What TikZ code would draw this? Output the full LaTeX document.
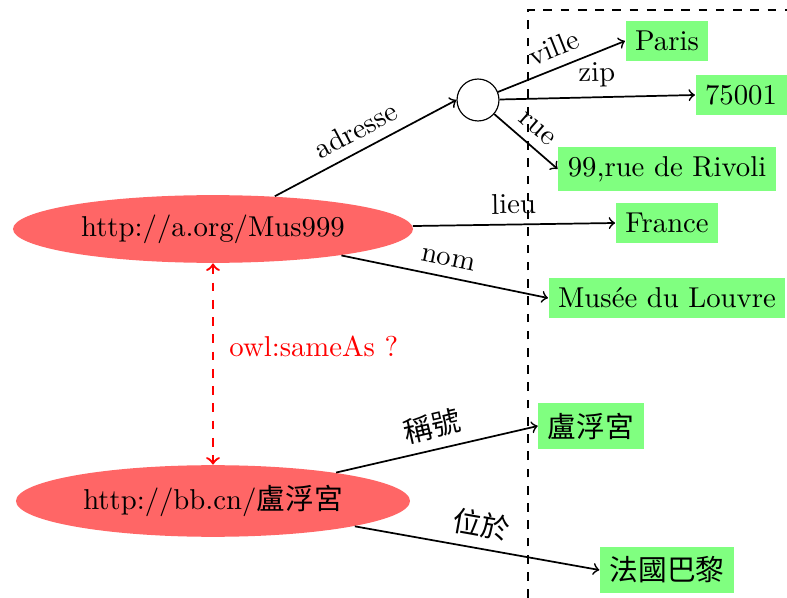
\documentclass[tikz,border=0pt]{standalone}
\usepackage{fontspec}
\newfontfamily\cjk{Noto Sans CJK TC}
\usetikzlibrary{shapes.geometric}

\begin{document}
\begin{tikzpicture}[x=0.348pt,y=-0.348pt,
        uri/.style={ellipse,fill=red!60},
        lit/.style={rectangle,fill=green!50},
        bnode/.style={circle,draw,minimum size=14.6pt,inner sep=0pt},
        prop/.style={->,semithick},
        lbl/.style={midway,above,sloped}]
            \useasboundingbox (0,0) rectangle (787,598);
            %frame of the second graph
            \draw[dashed] (528,598) |- (787,10);
            %resources
            \node[uri] (mus) at (213,229) {http://a.org/Mus999};
            \node[uri] (lfg) at (213,501) {http://bb.cn/{\cjk 盧浮宮}};
            \node[bnode] (adr) at (478,100) {};
            %literals
            \node[lit] (paris) at (667,41) {Paris};
            \node[lit] (zip) at (741,95) {75001};
            \node[lit] (rue) at (667,169) {99,rue de Rivoli};
            \node[lit] (france) at (667,223) {France};
            \node[lit] (louvre) at (667,298) {Musée du Louvre};
            \node[lit] (lfgname) at (591,426) {\cjk 盧浮宮};
            \node[lit] (lfgloc) at (667,570) {\cjk 法國巴黎};
            %properties
            \draw[prop] (mus) -- node[lbl] {adresse} (adr.west);
            \draw[prop] (adr) -- node[lbl] {ville} (paris.west);
            \draw[prop] (adr) -- node[lbl] {zip} (zip.west);
            \draw[prop] (adr) -- node[lbl] {rue} (rue.west);
            \draw[prop] (mus) -- node[lbl] {lieu} (france.west);
            \draw[prop] (mus) -- node[lbl] {nom} (louvre.west);
            \draw[prop] (lfg) -- node[lbl] {\cjk 稱號} (lfgname.west);
            \draw[prop] (lfg) -- node[lbl] {\cjk 位於} (lfgloc.west);
            %owl:sameAs
            \draw[red,thick,dashed,<->] (mus) -- node[pos=0.41,right,xshift=2pt] {owl:sameAs ?} (lfg);
        \end{tikzpicture}
\end{document}
